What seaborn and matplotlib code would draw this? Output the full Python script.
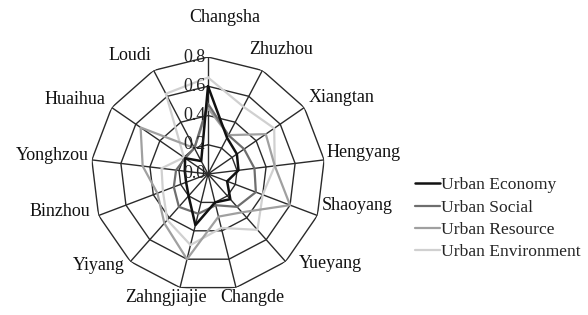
import numpy as np
import pandas as pd
import matplotlib
matplotlib.use("Agg")
import matplotlib.pyplot as plt
import seaborn as sns

# Data
cities = ["Changsha", "Zhuzhou", "Xiangtan", "Hengyang", "Shaoyang", "Yueyang",
          "Changde", "Zahngjiajie", "Yiyang", "Binzhou", "Yonghzou", "Huaihua", "Loudi"]
economy = [0.60, 0.28, 0.24, 0.21, 0.14, 0.23, 0.20, 0.36, 0.20, 0.16, 0.16, 0.19, 0.10]
social = [0.48, 0.30, 0.30, 0.32, 0.35, 0.30, 0.22, 0.28, 0.30, 0.25, 0.22, 0.19, 0.20]
resource = [0.45, 0.30, 0.48, 0.46, 0.60, 0.35, 0.30, 0.60, 0.45, 0.37, 0.45, 0.56, 0.20]
environment = [0.66, 0.52, 0.55, 0.46, 0.40, 0.51, 0.38, 0.50, 0.42, 0.33, 0.32, 0.20, 0.62]
series_names = ["Urban Economy", "Urban Social", "Urban Resource", "Urban Environment"]
r_ticks = [0.0, 0.2, 0.4, 0.6, 0.8]

sns.set_theme(style="white")
plt.rcParams["font.family"] = ["Liberation Serif", "DejaVu Serif"]

n = len(cities)
theta = np.linspace(0, 2 * np.pi, n, endpoint=False)

# long table, each polygon closed back on its first city
rows = []
for name, vals in zip(series_names, [economy, social, resource, environment]):
    for i in range(n + 1):
        rows.append({"series": name, "theta": theta[i % n] if i < n else 2 * np.pi,
                     "value": vals[i % n]})
df = pd.DataFrame(rows)

fig = plt.figure(figsize=(5.88, 3.15), dpi=100)
ax = fig.add_axes([91 / 588, 24 / 315, 234 / 588, 234 / 315], projection="polar")
ax.set_theta_zero_location("N")
ax.set_theta_direction(-1)
ax.set_ylim(0, 0.8)
ax.grid(False)
ax.spines["polar"].set_visible(False)
ax.set_xticks([])
ax.set_yticks([])

# polygon grid and spokes
closed = np.append(theta, theta[0])
for r in r_ticks[1:]:
    ax.plot(closed, [r] * (n + 1), color="#2a2a2a", lw=1.0, zorder=1)
for t in theta:
    ax.plot([t, t], [0, 0.8], color="#2a2a2a", lw=1.0, zorder=1)

palette = {"Urban Economy": "#111111", "Urban Social": "#6e6e6e",
           "Urban Resource": "#a0a0a0", "Urban Environment": "#d0d0d0"}
widths = {"Urban Economy": 1.8, "Urban Social": 1.6,
          "Urban Resource": 1.6, "Urban Environment": 1.6}
for name in series_names[::-1]:
    sub = df[df["series"] == name]
    sns.lineplot(data=sub, x="theta", y="value", sort=False, estimator=None,
                 color=palette[name], lw=widths[name], ax=ax, zorder=3, legend=False)
ax.set_xlabel("")
ax.set_ylabel("")
ax.set_ylim(0, 0.8)

for r in r_ticks:
    ax.annotate(f"{r:.1f}", xy=(0, r), xytext=(-2, 0), textcoords="offset points",
                ha="right", va="center", fontsize=13, color="#222222", zorder=4)

# category labels (pixel positions of label centers)
label_xy = [(225, 18), (281, 50), (342, 97), (364, 152), (357, 206), (330, 263),
            (252, 298), (166, 298), (99, 265), (60, 212), (52, 155), (75, 100), (130, 56)]
for city, (px, py) in zip(cities, label_xy):
    fig.text(px / 588, 1 - py / 315, city, ha="center", va="center",
             fontsize=13, color="#111111")

handles = [plt.Line2D([], [], color=palette[s], lw=widths[s]) for s in series_names]
fig.legend(handles, series_names, loc="upper left", bbox_to_anchor=(408 / 588, 1 - 170 / 315),
           frameon=False, fontsize=12.6, handlelength=1.4, handletextpad=0.1,
           labelspacing=0.35, borderaxespad=0)

fig.savefig("out.png", dpi=100)
